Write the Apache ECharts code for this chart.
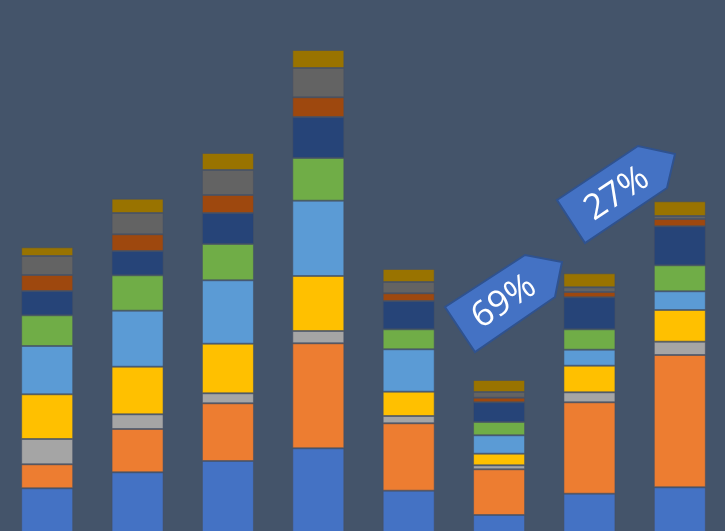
<!DOCTYPE html>
<html>
<head>
<meta charset="utf-8">
<script src="https://cdn.jsdelivr.net/npm/echarts@6/dist/echarts.min.js"></script>
<style>
html,body{margin:0;padding:0;background:#44546A;}
#chart{width:725px;height:531px;}
</style>
</head>
<body>
<div id="chart"></div>
<script>
// Categories (no visible labels in the reference)
const categories = ['1', '2', '3', '4', '5', '6', '7', '8'];

// Stacked segment values, bottom to top
const s1  = [46.7, 62.7, 74.0, 86.7, 44.3, 20.0, 41.3, 47.7];
const s2  = [24.0, 43.3, 57.7, 105.0, 67.4, 45.7, 91.4, 132.3];
const s3  = [25.3, 14.7, 10.0, 12.3, 7.3, 4.0, 10.0, 13.3];
const s4  = [44.7, 47.6, 49.6, 55.0, 24.3, 11.6, 26.6, 31.7];
const s5  = [48.3, 56.0, 63.4, 75.3, 42.4, 18.4, 16.0, 18.7];
const s6  = [30.7, 35.4, 36.3, 42.7, 20.0, 13.3, 20.4, 26.0];
const s7  = [24.3, 24.3, 31.0, 41.0, 28.3, 19.7, 32.0, 39.0];
const s8  = [16.0, 16.7, 18.0, 19.7, 7.7, 4.6, 5.3, 7.3];
const s9  = [19.0, 21.3, 25.0, 29.3, 11.3, 5.7, 4.7, 3.0];
const s10 = [8.7, 14.3, 17.0, 18.0, 13.0, 12.0, 14.0, 14.7];

const seriesData = [s1, s2, s3, s4, s5, s6, s7, s8, s9, s10];
const colors = ['#4472C4', '#ED7D31', '#A5A5A5', '#FFC000', '#5B9BD5',
                '#70AD47', '#264478', '#9E480E', '#636363', '#997300'];

// Annotation labels
const labels = ['69%', '27%'];

const chart = echarts.init(document.getElementById('chart'));

const series = seriesData.map((d, i) => ({
  type: 'bar',
  stack: 'total',
  data: d,
  barWidth: 52,
  itemStyle: { color: colors[i], borderColor: 'rgba(70,80,100,0.55)', borderWidth: 1 },
  emphasis: { disabled: true },
  animation: false
}));

const ang = 33.5 * Math.PI / 180;

chart.setOption({
  backgroundColor: '#44546A',
  animation: false,
  grid: { left: 2, width: 723, top: 0, height: 535, containLabel: false, outerBoundsMode: 'none' },
  xAxis: {
    type: 'category', data: categories,
    axisLine: { show: false }, axisTick: { show: false }, axisLabel: { show: false }
  },
  yAxis: {
    type: 'value', min: 0, max: 535,
    splitLine: { show: false }, axisLine: { show: false }, axisTick: { show: false }, axisLabel: { show: false }
  },
  series: series,
  graphic: [
    { type: 'polygon', z: 100,
      shape: { points: [[445,307],[525,255],[562,262],[555,297],[475,352]] },
      style: { fill: '#4472C4', stroke: '#2F528F', lineWidth: 2 } },
    { type: 'text', z: 101, x: 504, y: 302, rotation: ang,
      style: { text: labels[0], fill: '#ffffff', font: '35px "Open Sans", sans-serif', align: 'center', verticalAlign: 'middle' } },
    { type: 'polygon', z: 100,
      shape: { points: [[557,200],[638,146],[675,154],[667,188],[585,243]] },
      style: { fill: '#4472C4', stroke: '#2F528F', lineWidth: 2 } },
    { type: 'text', z: 101, x: 617, y: 194, rotation: ang,
      style: { text: labels[1], fill: '#ffffff', font: '35px "Open Sans", sans-serif', align: 'center', verticalAlign: 'middle' } }
  ]
});
</script>
</body>
</html>
